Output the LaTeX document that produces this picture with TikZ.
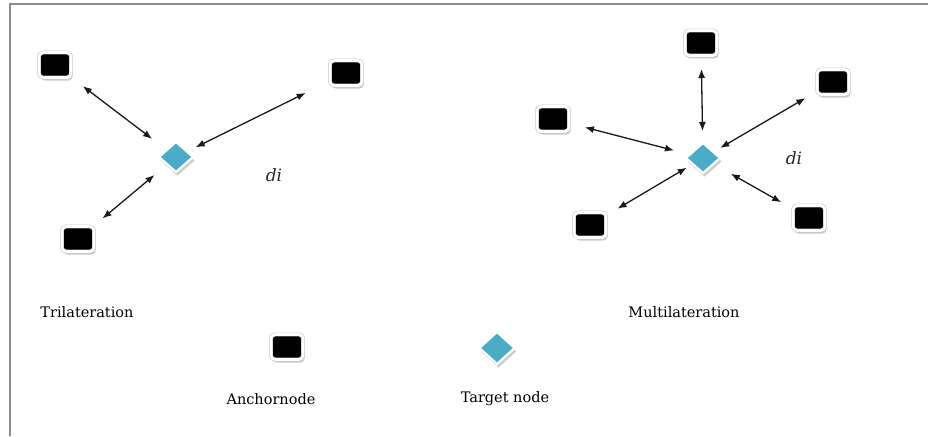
\documentclass[tikz,border=0pt]{standalone}
\usepackage{fontspec}
\setmainfont{DejaVu Serif}
\usetikzlibrary{arrows.meta,shapes.geometric,shadows}
\definecolor{tgtblue}{RGB}{75,172,198}
\tikzset{
  anchorbox/.style={fill=black, draw=black!22, line width=0.6pt, double=white, double distance=2.6pt,
    rounded corners=4pt, minimum width=32pt, minimum height=25pt, inner sep=0pt,
    drop shadow={shadow xshift=1.5pt, shadow yshift=-3pt, fill=black!30, opacity=0.7}},
  targetbox/.style={diamond, fill=tgtblue, draw=white, line width=2.2pt, aspect=1.1,
    minimum width=35pt, minimum height=31pt, inner sep=0pt,
    drop shadow={shadow xshift=1.5pt, shadow yshift=-3.5pt, fill=black!25, opacity=0.8}},
  link/.style={line width=1.3pt, black!90, {Latex[length=9pt,width=7pt]}-{Latex[length=9pt,width=7pt]}},
  lbl/.style={font=\fontsize{14.5}{16}\selectfont, text=black, inner sep=0pt},
  distlbl/.style={font=\fontsize{17}{18}\selectfont\itshape, text=black!85, inner sep=0pt}
}
\begin{document}
\begin{tikzpicture}[x=1pt,y=-1pt]
\useasboundingbox (0,0) rectangle (928,436);
% frame
\draw[line width=1.8pt, black!45] (10,436) -- (10,4) -- (928,4);
% Trilateration
\node[anchorbox] (a1) at (55,65) {};
\node[anchorbox] (a2) at (346,73) {};
\node[anchorbox] (a3) at (78,239) {};
\node[targetbox] (t1) at (176,157) {};
\draw[link, shorten <=35pt, shorten >=30pt] (a1.center) -- (t1.center);
\draw[link, shorten <=45pt, shorten >=22pt] (a2.center) -- (t1.center);
\draw[link, shorten <=32pt, shorten >=28pt] (a3.center) -- (t1.center);
\node[distlbl] (d1) at (274,175) {di};
% Multilateration
\node[anchorbox] (m1) at (701,43) {};
\node[anchorbox] (m2) at (833,82) {};
\node[anchorbox] (m3) at (553,119) {};
\node[anchorbox] (m4) at (590,225) {};
\node[anchorbox] (m5) at (809,218) {};
\node[targetbox] (t2) at (703,158) {};
\draw[link, shorten <=26pt, shorten >=27pt] (m1.center) -- (t2.center);
\draw[link, shorten <=32pt, shorten >=20pt] (m2.center) -- (t2.center);
\draw[link, shorten <=33pt, shorten >=30pt] (m3.center) -- (t2.center);
\draw[link, shorten <=32pt, shorten >=19pt] (m4.center) -- (t2.center);
\draw[link, shorten <=32pt, shorten >=32pt] (m5.center) -- (t2.center);
\node[distlbl] (d2) at (794,158) {di};
% captions
\node[lbl] (c1) at (87,312) {Trilateration};
\node[lbl] (c2) at (684,312) {Multilateration};
% legend
\node[anchorbox] (la) at (287,347) {};
\node[lbl] (lat) at (271,399) {Anchornode};
\node[targetbox, minimum width=36pt, minimum height=33pt] (lt) at (497,348) {};
\node[lbl] (ltt) at (505,399) {Target node};
\end{tikzpicture}
\end{document}
